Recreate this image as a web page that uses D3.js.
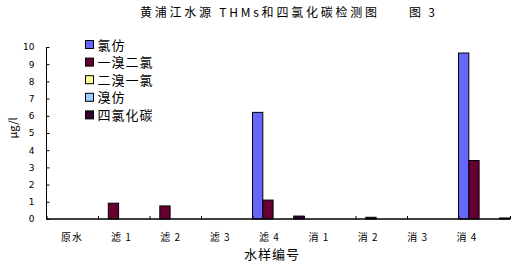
<!DOCTYPE html>
<html>
<head>
<meta charset="utf-8">
<script src="https://cdn.jsdelivr.net/npm/d3@7"></script>
<style>
  html, body { margin: 0; padding: 0; background: #fff; }
  svg { display: block; }
  text { font-family: "Noto Sans CJK SC", "DejaVu Sans", sans-serif; fill: #000; }
</style>
</head>
<body>
<div id="chart"></div>
<script>
const categories = ['原水', '滤 1', '滤 2', '滤 3', '滤 4', '消 1', '消 2', '消 3', '消 4']
const seriesNames = ['氯仿', '一溴二氯', '二溴一氯', '溴仿', '四氯化碳']
const seriesColors = ['#6666ff', '#660033', '#ffff99', '#99ccff', '#330033']
const chloroform = [0, 0, 0, 0, 6.2, 0, 0, 0, 9.65]
const bromodichloro = [0, 0.92, 0.76, 0, 1.1, 0, 0.1, 0, 3.4]
const dibromochloro = [0, 0, 0, 0, 0, 0, 0, 0, 0]
const bromoform = [0, 0, 0, 0, 0, 0, 0, 0, 0]
const carbonTet = [0, 0, 0, 0, 0.17, 0, 0, 0, 0.06]
const yTicks = [0, 1, 2, 3, 4, 5, 6, 7, 8, 9, 10]

const seriesValues = [chloroform, bromodichloro, dibromochloro, bromoform, carbonTet]

const width = 513
const height = 265
const margin = { top: 47, right: 3, bottom: 46, left: 46.5 }

const svg = d3.select('#chart').append('svg')
  .attr('width', width)
  .attr('height', height)

const x = d3.scaleBand()
  .domain(categories)
  .range([margin.left, width - margin.right])
  .padding(0)
const xSub = d3.scaleBand()
  .domain(seriesNames)
  .range([0, x.bandwidth()])
  .padding(0)
const xIdx = d3.scaleLinear()
  .domain([0, categories.length])
  .range([margin.left, width - margin.right])
// category labels sit a little left of centre in the original
const xLabel = d3.scalePoint()
  .domain(categories)
  .range([72, 467])
const y = d3.scaleLinear()
  .domain([0, 10])
  .range([height - margin.bottom, margin.top])

// bars
const barData = []
seriesValues.forEach((vals, s) => {
  vals.forEach((v, i) => {
    if (v > 0) barData.push({ cat: categories[i], series: seriesNames[s], color: seriesColors[s], value: v })
  })
})
svg.append('g')
  .selectAll('rect')
  .data(barData)
  .join('rect')
  .attr('x', d => x(d.cat) + xSub(d.series))
  .attr('y', d => y(d.value))
  .attr('width', xSub.bandwidth())
  .attr('height', d => y(0) - y(d.value))
  .attr('fill', d => d.color)
  .attr('stroke', '#000')
  .attr('stroke-width', 1)

// y axis
const yAxis = svg.append('g')
  .attr('transform', `translate(${margin.left}, 0)`)
  .call(d3.axisLeft(y).tickValues(yTicks).tickSize(-3).tickPadding(12))
yAxis.select('.domain').attr('d', `M0,${y(10)}V${y(0)}`).attr('stroke', '#000')
yAxis.selectAll('.tick line').attr('stroke', '#000')
yAxis.selectAll('.tick text')
  .style('font-family', '"DejaVu Sans", sans-serif')
  .style('font-size', '9px')

// x axis
const xAxis = svg.append('g')
  .attr('transform', `translate(0, ${y(0)})`)
  .call(d3.axisBottom(xIdx).ticks(categories.length).tickSize(-3).tickFormat(''))
xAxis.select('.domain').attr('d', `M${margin.left},0H${width - margin.right}`).attr('stroke', '#000').attr('stroke-width', 1.5)
xAxis.selectAll('.tick line').attr('stroke', '#000')

svg.append('g')
  .selectAll('text')
  .data(categories)
  .join('text')
  .attr('x', d => xLabel(d))
  .attr('y', 241)
  .attr('text-anchor', 'middle')
  .style('font-size', '10px')
  .style('letter-spacing', '1px')
  .text(d => d)

// axis titles
svg.append('text')
  .attr('x', 272)
  .attr('y', 259)
  .attr('text-anchor', 'middle')
  .style('font-size', '13px')
  .style('letter-spacing', '1px')
  .text('水样编号')

svg.append('text')
  .attr('transform', 'translate(17, 128) rotate(-90)')
  .attr('text-anchor', 'middle')
  .style('font-size', '11px')
  .text('μg/l')

// title
svg.append('text')
  .attr('x', 140)
  .attr('y', 17)
  .attr('textLength', 237)
  .style('font-size', '12px')
  .text('黄浦江水源 THMs和四氯化碳检测图')
svg.append('text')
  .attr('x', 409)
  .attr('y', 17)
  .attr('textLength', 26)
  .style('font-size', '12px')
  .text('图 3')

// legend
const legend = svg.append('g')
  .selectAll('g')
  .data(seriesNames)
  .join('g')
  .attr('transform', (d, i) => `translate(85.5, ${40.5 + i * 17.6})`)
legend.append('rect')
  .attr('width', 8)
  .attr('height', 8)
  .attr('fill', (d, i) => seriesColors[i])
  .attr('stroke', '#000')
legend.append('text')
  .attr('x', 12)
  .attr('y', 9)
  .style('font-size', '13px')
  .style('letter-spacing', '1px')
  .text(d => d)
</script>
</body>
</html>
